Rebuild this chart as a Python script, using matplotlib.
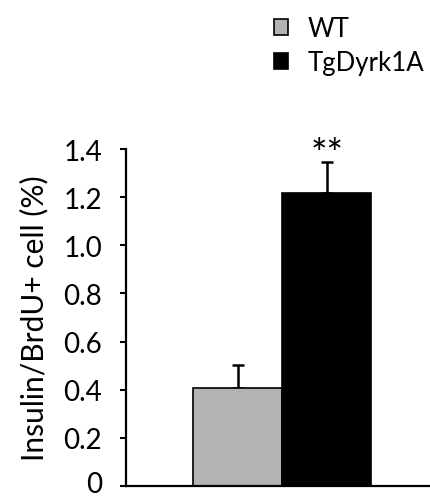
import numpy as np
import matplotlib
matplotlib.use('Agg')
import matplotlib.pyplot as plt
import matplotlib.transforms as mtransforms
from matplotlib.ticker import FuncFormatter

plt.rcParams['font.family'] = ['Lato', 'DejaVu Sans']

# data
groups = ['WT', 'TgDyrk1A']
means = [0.405, 1.217]
errs = [0.097, 0.128]
colors = ['#b3b3b3', '#000000']
yticks = [0, 0.2, 0.4, 0.6, 0.8, 1.0, 1.2, 1.4]
signif = '**'

fig = plt.figure(figsize=(4.31, 5.02), dpi=100)
ax = fig.add_axes([0.292, 0.030, 0.708, 0.671])

xpos = np.arange(len(groups))
bars = ax.bar(xpos, means, width=1.0, color=colors, edgecolor='black', linewidth=1.2,
              label=groups, zorder=2)
ax.errorbar(xpos, means, yerr=[[0, 0], errs], fmt='none', ecolor='black',
            elinewidth=1.8, capsize=4, capthick=1.8, zorder=1)

ax.text(xpos[1], means[1] + errs[1] - 0.015, signif, ha='center', va='baseline', fontsize=28)

ax.set_xlim(-1.26, 2.17)
ax.set_ylim(0, 1.4)
ax.set_yticks(yticks)
ax.yaxis.set_major_formatter(FuncFormatter(lambda v, p: '0' if v == 0 else '%.1f' % v))
ax.set_xticks([])
ax.tick_params(axis='y', direction='out', length=4, width=1.5, labelsize=20, pad=13)
for s in ['top', 'right']:
    ax.spines[s].set_visible(False)
ax.spines['left'].set_linewidth(1.6)
ax.spines['bottom'].set_linewidth(1.6)
ax.set_ylabel('Insulin/BrdU+ cell (%)', fontsize=21.5, labelpad=11)

# keep the "0" label inside the figure
fig.canvas.draw()
lab0 = ax.get_yticklabels()[0]
lab0.set_transform(lab0.get_transform() + mtransforms.ScaledTranslation(0, 3 / 72, fig.dpi_scale_trans))

fig.legend(handles=bars, labels=groups, loc='upper left', bbox_to_anchor=(0.582, 1.012),
           frameon=False, fontsize=18.5, handlelength=0.55, handleheight=0.55,
           handletextpad=0.75, labelspacing=0.35)

plt.savefig('out.png', dpi=100)
